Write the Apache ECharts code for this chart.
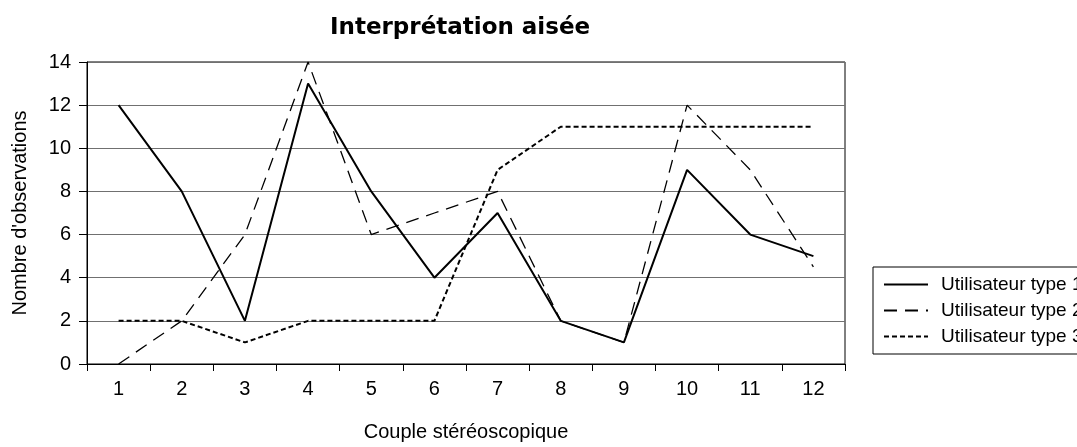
<!DOCTYPE html>
<html>
<head>
<meta charset="utf-8">
<script src="https://cdn.jsdelivr.net/npm/echarts@6/dist/echarts.min.js"></script>
<style>
  html, body { margin: 0; padding: 0; background: #fff; }
  #chart { width: 1077px; height: 447px; }
</style>
</head>
<body>
<div id="chart"></div>
<script>
// Couples stéréoscopiques (x categories)
const couples = ['1', '2', '3', '4', '5', '6', '7', '8', '9', '10', '11', '12'];

// Number of observations per user type
const type1 = [12, 8, 2, 13, 8, 4, 7, 2, 1, 9, 6, 5];
const type2 = [0, 2, 6, 14, 6, 7, 8, 2, 1, 12, 9, 4.5];
const type3 = [2, 2, 1, 2, 2, 2, 9, 11, 11, 11, 11, 11];

const seriesNames = ['Utilisateur type 1', 'Utilisateur type 2', 'Utilisateur type 3'];

const baseFont = '"Liberation Sans", Arial, sans-serif';

const chart = echarts.init(document.getElementById('chart'), null, { renderer: 'canvas' });

chart.setOption({
  backgroundColor: '#fff',
  animation: false,
  title: {
    text: 'Interprétation aisée',
    left: 330,
    top: 17,
    padding: 0,
    textStyle: {
      fontFamily: '"DejaVu Sans", sans-serif',
      fontWeight: 'bold',
      fontSize: 23,
      color: '#000'
    }
  },
  grid: {
    left: 87,
    right: 232,
    top: 62,
    bottom: 80,
    show: true,
    borderColor: '#000',
    borderWidth: 1,
    backgroundColor: '#fff'
  },
  legend: {
    orient: 'vertical',
    left: 873,
    top: 267,
    padding: [8, 220, 8, 10],
    borderColor: '#000',
    borderWidth: 1,
    itemWidth: 44,
    itemHeight: 14,
    itemGap: 7,
    data: seriesNames,
    // line-only keys, no point markers
    itemStyle: { opacity: 0 },
    textStyle: {
      fontFamily: baseFont,
      fontSize: 19,
      color: '#000',
      padding: [0, 0, 0, 8]
    }
  },
  xAxis: {
    type: 'category',
    data: couples,
    boundaryGap: true,
    name: 'Couple stéréoscopique',
    nameLocation: 'middle',
    nameGap: 58,
    nameTextStyle: { fontFamily: baseFont, fontSize: 20, color: '#000' },
    axisLine: { lineStyle: { color: '#000', width: 1 } },
    axisTick: { show: true, length: 7, alignWithLabel: false, lineStyle: { color: '#000' } },
    axisLabel: { margin: 15, fontFamily: baseFont, fontSize: 20, color: '#000' },
    splitLine: { show: false }
  },
  yAxis: {
    type: 'value',
    min: 0,
    max: 14,
    interval: 2,
    name: "Nombre d'observations",
    nameLocation: 'middle',
    nameGap: 57,
    nameTextStyle: { fontFamily: baseFont, fontSize: 20, color: '#000' },
    axisLine: { show: true, lineStyle: { color: '#000', width: 1 } },
    axisTick: { show: true, length: 8, lineStyle: { color: '#000' } },
    axisLabel: { margin: 16, fontFamily: baseFont, fontSize: 20, color: '#000' },
    splitLine: { show: true, lineStyle: { color: '#707070', width: 1 } }
  },
  series: [
    {
      name: seriesNames[0],
      type: 'line',
      data: type1,
      symbol: 'none',
      lineStyle: { color: '#000', width: 2, type: 'solid' },
      itemStyle: { color: '#000' }
    },
    {
      name: seriesNames[1],
      type: 'line',
      data: type2,
      symbol: 'none',
      lineStyle: { color: '#000', width: 1.3, type: [13, 8] },
      itemStyle: { color: '#000' }
    },
    {
      name: seriesNames[2],
      type: 'line',
      data: type3,
      symbol: 'none',
      lineStyle: { color: '#000', width: 2, type: [5, 3] },
      itemStyle: { color: '#000' }
    }
  ]
});
</script>
</body>
</html>
